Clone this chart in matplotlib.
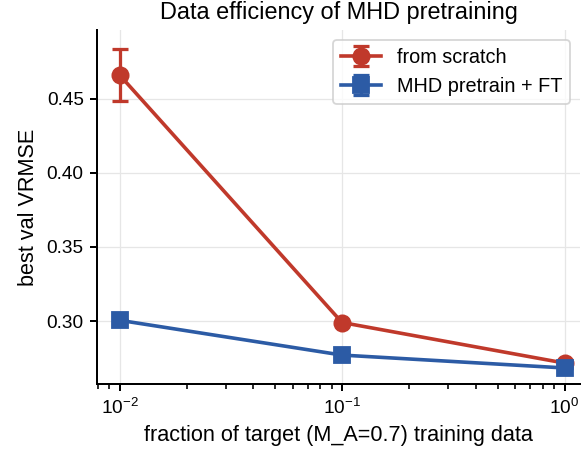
import numpy as np
import matplotlib.pyplot as plt

plt.rcParams['font.family'] = ['Liberation Sans', 'DejaVu Sans']

# data
fractions = [0.01, 0.1, 1.0]
scratch = [0.4662, 0.2990, 0.2716]
scratch_err = [0.0176, 0.0, 0.0]
pretrain = [0.3005, 0.2770, 0.2683]
pretrain_err = [0.0, 0.0, 0.0]

red = '#c0392b'
blue = '#2c5ba5'

fig = plt.figure(figsize=(586 / 130, 456 / 130), dpi=130)
ax = fig.add_axes([0.166, 0.158, 0.824, 0.776])

ax.errorbar(fractions, scratch, yerr=scratch_err, color=red, marker='o',
            markersize=9, linewidth=2, capsize=4.5, capthick=1.8, elinewidth=1.8,
            label='from scratch')
ax.errorbar(fractions, pretrain, yerr=pretrain_err, color=blue, marker='s',
            markersize=9, linewidth=2, capsize=4.5, capthick=1.8, elinewidth=1.8,
            label='MHD pretrain + FT')

ax.set_xscale('log')
ax.set_xlim(10**-2.1, 10**0.07)
ax.set_ylim(0.2575, 0.4965)
ax.set_yticks([0.30, 0.35, 0.40, 0.45])
ax.grid(True, color='#e6e6e6', linewidth=0.7)
ax.set_axisbelow(True)
for s in ['top', 'right']:
    ax.spines[s].set_visible(False)
ax.spines['left'].set_linewidth(1.1)
ax.spines['bottom'].set_linewidth(1.1)
ax.tick_params(labelsize=10.5, width=1.1, length=4)
ax.tick_params(which='minor', width=0.9, length=2.5)

ax.set_xlabel('fraction of target (M_A=0.7) training data', fontsize=12)
ax.set_ylabel('best val VRMSE', fontsize=12)
ax.set_title('Data efficiency of MHD pretraining', fontsize=13)
ax.legend(loc='upper right', fontsize=11, frameon=True, edgecolor='#cccccc',
          fancybox=True)

fig.savefig('out.png', dpi=130)
